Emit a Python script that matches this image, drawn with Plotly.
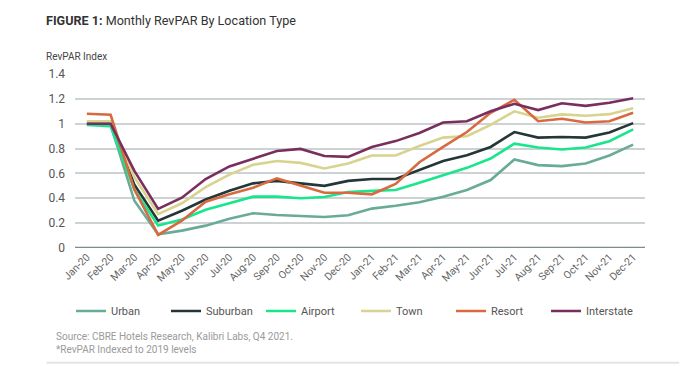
import plotly.graph_objects as go

months = ["Jan-20", "Feb-20", "Mar-20", "Apr-20", "May-20", "Jun-20", "Jul-20", "Aug-20",
          "Sep-20", "Oct-20", "Nov-20", "Dec-20", "Jan-21", "Feb-21", "Mar-21", "Apr-21",
          "May-21", "Jun-21", "Jul-21", "Aug-21", "Sep-21", "Oct-21", "Nov-21", "Dec-21"]

urban = [1.00, 0.99, 0.38, 0.11, 0.14, 0.18, 0.235, 0.28, 0.265, 0.26, 0.25, 0.264,
         0.317, 0.34, 0.368, 0.413, 0.467, 0.547, 0.712, 0.667, 0.659, 0.68, 0.744, 0.832]
suburban = [1.00, 1.00, 0.51, 0.22, 0.30, 0.39, 0.46, 0.52, 0.54, 0.52, 0.50, 0.54,
            0.555, 0.555, 0.627, 0.70, 0.747, 0.813, 0.933, 0.888, 0.893, 0.888, 0.93, 1.005]
airport = [0.99, 0.98, 0.47, 0.18, 0.23, 0.307, 0.36, 0.413, 0.413, 0.40, 0.41, 0.45,
           0.46, 0.467, 0.525, 0.587, 0.645, 0.72, 0.84, 0.808, 0.792, 0.808, 0.859, 0.955]
town = [1.02, 1.02, 0.57, 0.272, 0.36, 0.49, 0.59, 0.67, 0.70, 0.685, 0.64, 0.68,
        0.744, 0.744, 0.82, 0.888, 0.90, 0.99, 1.10, 1.048, 1.075, 1.064, 1.077, 1.125]
resort = [1.08, 1.072, 0.47, 0.105, 0.22, 0.373, 0.432, 0.485, 0.56, 0.50, 0.445, 0.445,
          0.432, 0.515, 0.69, 0.813, 0.933, 1.088, 1.192, 1.02, 1.04, 1.01, 1.02, 1.088]
interstate = [1.00, 1.00, 0.62, 0.315, 0.405, 0.555, 0.656, 0.72, 0.78, 0.797, 0.74, 0.733,
              0.813, 0.86, 0.925, 1.01, 1.02, 1.10, 1.16, 1.11, 1.165, 1.144, 1.168, 1.205]

series = [("Urban", urban, "#6aab97"),
          ("Suburban", suburban, "#243636"),
          ("Airport", airport, "#19e68c"),
          ("Town", town, "#d8d38e"),
          ("Resort", resort, "#d76a40"),
          ("Interstate", interstate, "#7a2e5e")]

fig = go.Figure()
for name, vals, color in series:
    fig.add_trace(go.Scatter(x=months, y=vals, name=name, mode="lines",
                             line=dict(color=color, width=2.6)))

font_family = "Roboto, Inter, sans-serif"

fig.update_layout(
    width=700, height=366,
    margin=dict(l=75, r=55, t=74, b=118, autoexpand=False),
    paper_bgcolor="white", plot_bgcolor="white",
    font=dict(family=font_family, color="#555555", size=11),
    showlegend=True,
    legend=dict(orientation="h", x=-0.007, xanchor="left", y=-0.362, yanchor="middle",
                font=dict(size=11, color="#555555"), entrywidth=50, entrywidthmode="pixels",
                itemwidth=30, tracegroupgap=0, bgcolor="rgba(0,0,0,0)"),
    xaxis=dict(type="category", range=[-0.5, 23.5], showgrid=False, tickangle=-45,
               ticks="", tickfont=dict(size=10.5, color="#666666"), showline=False,
               zeroline=False),
    yaxis=dict(range=[0, 1.4], dtick=0.2, tick0=0, showgrid=True, gridcolor="#cdd3d5",
               gridwidth=1.5, zeroline=False, showline=False, ticks="",
               tickfont=dict(size=12, color="#555555"), ticksuffix="   "),
)

# thick baseline at zero
fig.add_shape(type="line", xref="paper", yref="y", x0=0, x1=1, y0=0, y1=0,
              line=dict(color="#7f8a8b", width=2.5), layer="above")

fig.add_annotation(xref="paper", yref="paper", x=-0.055, y=1.31, xanchor="left", yanchor="middle",
                   text="<b>FIGURE 1:</b> Monthly RevPAR By Location Type", showarrow=False,
                   font=dict(size=12.6, color="#333333", family=font_family))
fig.add_annotation(xref="paper", yref="paper", x=-0.055, y=1.098, xanchor="left", yanchor="middle",
                   text="RevPAR Index", showarrow=False,
                   font=dict(size=10, color="#444444", family=font_family))
fig.add_annotation(xref="paper", yref="paper", x=-0.037, y=-0.511, xanchor="left", yanchor="middle",
                   text="Source: CBRE Hotels Research, Kalibri Labs, Q4 2021.", showarrow=False,
                   font=dict(size=10, color="#9a9a9a", family=font_family))
fig.add_annotation(xref="paper", yref="paper", x=-0.037, y=-0.586, xanchor="left", yanchor="middle",
                   text="*RevPAR Indexed to 2019 levels", showarrow=False,
                   font=dict(size=10, color="#9a9a9a", family=font_family))
fig.add_shape(type="line", xref="paper", yref="paper", x0=-0.05, x1=1.06, y0=-0.66, y1=-0.66,
              line=dict(color="#dfe6e4", width=2))

fig.write_html("out.html", config={"displayModeBar": False},
               post_script="document.body.style.margin='0';document.body.style.padding='0';")
